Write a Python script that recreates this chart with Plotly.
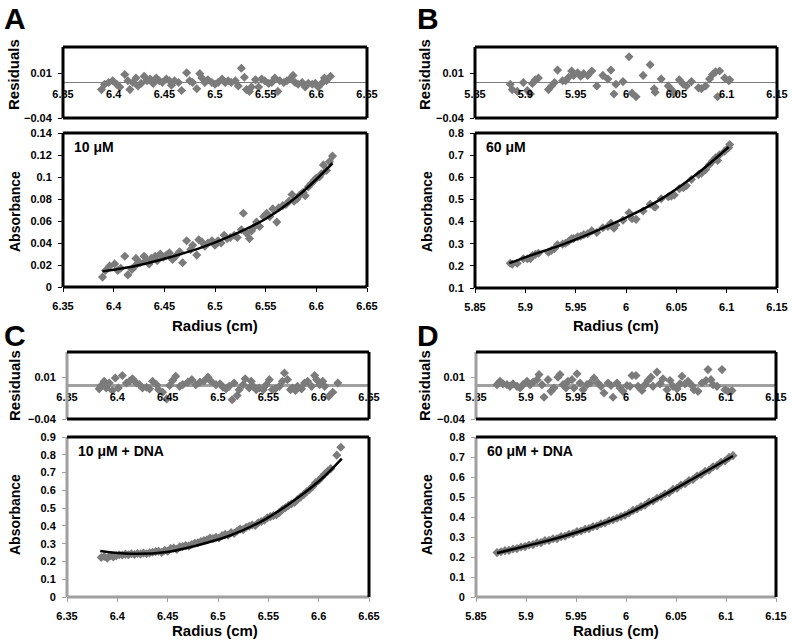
import plotly.graph_objects as go

# ---------------- data ----------------
# Panel A : 10 uM
a_x = [6.389, 6.392, 6.396, 6.401, 6.404, 6.407, 6.411, 6.414, 6.418, 6.421, 6.422, 6.426,
       6.430, 6.432, 6.435, 6.437, 6.441, 6.443, 6.446, 6.449, 6.452, 6.455, 6.458, 6.461,
       6.465, 6.468, 6.472, 6.476, 6.478, 6.482, 6.484, 6.487, 6.490, 6.493, 6.497, 6.500,
       6.503, 6.506, 6.509, 6.512, 6.515, 6.519, 6.522, 6.526, 6.528, 6.531, 6.534, 6.536,
       6.539, 6.541, 6.544, 6.548, 6.551, 6.554, 6.557, 6.561, 6.563, 6.567, 6.570, 6.573,
       6.576, 6.578, 6.581, 6.584, 6.587, 6.589, 6.592, 6.595, 6.598, 6.600, 6.603, 6.605,
       6.607, 6.610, 6.613, 6.616]
a_y = [0.009, 0.015, 0.019, 0.021, 0.015, 0.017, 0.028, 0.011, 0.016, 0.019, 0.026, 0.022,
       0.028, 0.024, 0.021, 0.026, 0.028, 0.024, 0.030, 0.027, 0.029, 0.031, 0.025, 0.028,
       0.032, 0.022, 0.042, 0.034, 0.038, 0.029, 0.043, 0.041, 0.037, 0.040, 0.042, 0.038,
       0.042, 0.040, 0.047, 0.044, 0.045, 0.047, 0.045, 0.052, 0.067, 0.049, 0.044, 0.051,
       0.055, 0.059, 0.055, 0.064, 0.067, 0.064, 0.071, 0.059, 0.072, 0.074, 0.075, 0.078,
       0.084, 0.078, 0.080, 0.084, 0.086, 0.083, 0.091, 0.094, 0.097, 0.099, 0.100, 0.103,
       0.111, 0.106, 0.114, 0.119]
a_fit_x = [6.389, 6.419, 6.452, 6.485, 6.518, 6.551, 6.584, 6.616]
a_fit_y = [0.0142, 0.0187, 0.0262, 0.0353, 0.0474, 0.0625, 0.0845, 0.1125]
a_res_x = [6.388, 6.391, 6.395, 6.399, 6.403, 6.406, 6.411, 6.414, 6.416, 6.419, 6.422, 6.424,
           6.427, 6.430, 6.433, 6.436, 6.439, 6.442, 6.445, 6.448, 6.452, 6.455, 6.457, 6.460,
           6.464, 6.467, 6.472, 6.475, 6.478, 6.482, 6.485, 6.487, 6.490, 6.493, 6.497, 6.500,
           6.503, 6.507, 6.510, 6.513, 6.516, 6.520, 6.523, 6.526, 6.529, 6.531, 6.534, 6.536,
           6.540, 6.543, 6.546, 6.549, 6.553, 6.556, 6.559, 6.562, 6.564, 6.568, 6.571, 6.574,
           6.577, 6.579, 6.582, 6.586, 6.589, 6.592, 6.596, 6.599, 6.602, 6.606, 6.608, 6.610,
           6.614]
a_res_y = [-0.008, -0.002, 0.000, 0.002, -0.002, -0.005, 0.009, 0.002, -0.008, 0.000, 0.005, -0.004,
           -0.001, 0.007, 0.002, 0.004, -0.001, 0.005, 0.002, 0.000, 0.004, 0.002, -0.003, 0.002,
           0.000, -0.009, 0.011, 0.002, 0.000, -0.007, 0.010, 0.005, 0.000, 0.003, 0.000, -0.002,
           0.000, 0.004, 0.000, 0.002, 0.000, 0.002, -0.004, 0.016, 0.006, -0.008, -0.010, -0.005,
           0.003, -0.005, 0.004, 0.002, -0.001, 0.000, 0.005, -0.010, 0.002, 0.000, 0.002, 0.004,
           0.008, 0.000, -0.002, 0.000, -0.005, -0.001, -0.002, -0.001, -0.005, 0.000, 0.005, 0.002,
           0.007]

# Panel B : 60 uM
b_x = [5.885, 5.887, 5.892, 5.898, 5.902, 5.905, 5.907, 5.910, 5.913, 5.923, 5.926, 5.929,
       5.932, 5.937, 5.940, 5.943, 5.946, 5.948, 5.952, 5.955, 5.958, 5.962, 5.966, 5.971,
       5.977, 5.982, 5.985, 5.988, 5.990, 5.997, 6.003, 6.006, 6.010, 6.017, 6.024, 6.028,
       6.029, 6.035, 6.042, 6.045, 6.048, 6.053, 6.057, 6.060, 6.065, 6.072, 6.075, 6.079,
       6.083, 6.086, 6.089, 6.091, 6.093, 6.098, 6.102, 6.103]
b_y = [0.212, 0.208, 0.212, 0.232, 0.232, 0.232, 0.246, 0.252, 0.257, 0.262, 0.270, 0.278,
       0.295, 0.298, 0.302, 0.311, 0.322, 0.323, 0.331, 0.334, 0.341, 0.345, 0.358, 0.351,
       0.372, 0.378, 0.392, 0.370, 0.385, 0.406, 0.440, 0.413, 0.410, 0.448, 0.478, 0.467,
       0.466, 0.503, 0.512, 0.515, 0.520, 0.548, 0.553, 0.562, 0.590, 0.612, 0.618, 0.634,
       0.658, 0.673, 0.688, 0.676, 0.702, 0.718, 0.734, 0.748]
b_fit_x = [5.884, 5.902, 5.936, 5.969, 6.002, 6.036, 6.069, 6.102]
b_fit_y = [0.212, 0.242, 0.295, 0.355, 0.422, 0.505, 0.610, 0.737]
b_res_x = b_x
b_res_y = [-0.002, -0.008, -0.010, 0.000, -0.009, -0.013, -0.001, 0.003, 0.005, -0.008, -0.004, 0.000,
           0.014, 0.002, 0.002, 0.006, 0.013, 0.008, 0.011, 0.007, 0.010, 0.008, 0.013, -0.004,
           0.008, 0.004, 0.014, -0.013, -0.002, 0.001, 0.029, -0.012, -0.016, 0.008, 0.020, -0.007,
           -0.011, 0.004, -0.004, -0.008, -0.012, 0.003, -0.002, -0.004, 0.001, -0.006, -0.007, -0.004,
           0.004, 0.009, 0.012, -0.016, 0.013, 0.005, 0.002, 0.003]

# Panel C : 10 uM + DNA
c_x = [6.384, 6.387, 6.390, 6.393, 6.396, 6.399, 6.402, 6.405, 6.408, 6.411, 6.414, 6.417,
       6.420, 6.423, 6.426, 6.429, 6.432, 6.435, 6.438, 6.441, 6.444, 6.447, 6.450, 6.453,
       6.456, 6.459, 6.462, 6.465, 6.468, 6.471, 6.474, 6.477, 6.480, 6.483, 6.486, 6.489,
       6.492, 6.495, 6.498, 6.501, 6.504, 6.507, 6.510, 6.513, 6.516, 6.519, 6.522, 6.525,
       6.528, 6.531, 6.534, 6.537, 6.540, 6.543, 6.546, 6.549, 6.552, 6.555, 6.558, 6.561,
       6.564, 6.567, 6.570, 6.573, 6.576, 6.579, 6.582, 6.585, 6.588, 6.591, 6.594, 6.597,
       6.600, 6.603, 6.606, 6.609, 6.612, 6.618, 6.622]
c_y = [0.222, 0.228, 0.218, 0.232, 0.225, 0.232, 0.238, 0.236, 0.241, 0.238, 0.243, 0.239,
       0.245, 0.242, 0.247, 0.243, 0.248, 0.252, 0.255, 0.257, 0.251, 0.262, 0.258, 0.272,
       0.276, 0.268, 0.282, 0.284, 0.289, 0.286, 0.295, 0.302, 0.305, 0.312, 0.318, 0.322,
       0.331, 0.329, 0.336, 0.332, 0.345, 0.352, 0.348, 0.362, 0.358, 0.371, 0.382, 0.379,
       0.392, 0.398, 0.405, 0.402, 0.418, 0.425, 0.432, 0.445, 0.452, 0.458, 0.462, 0.476,
       0.492, 0.502, 0.515, 0.524, 0.532, 0.548, 0.562, 0.575, 0.592, 0.605, 0.622, 0.642,
       0.655, 0.674, 0.692, 0.708, 0.722, 0.798, 0.842]
c_fit_x = [6.383, 6.413, 6.449, 6.479, 6.512, 6.545, 6.578, 6.605, 6.623]
c_fit_y = [0.259, 0.243, 0.253, 0.290, 0.346, 0.431, 0.553, 0.675, 0.778]
c_res_x = [6.382, 6.384, 6.387, 6.389, 6.392, 6.395, 6.398, 6.401, 6.405, 6.409, 6.412, 6.415,
           6.419, 6.422, 6.425, 6.429, 6.432, 6.435, 6.439, 6.441, 6.445, 6.449, 6.452, 6.455,
           6.458, 6.462, 6.465, 6.470, 6.474, 6.478, 6.482, 6.486, 6.490, 6.493, 6.498, 6.502,
           6.505, 6.508, 6.511, 6.514, 6.516, 6.519, 6.521, 6.525, 6.527, 6.531, 6.533, 6.535,
           6.538, 6.541, 6.545, 6.548, 6.551, 6.554, 6.557, 6.561, 6.564, 6.566, 6.569, 6.572,
           6.574, 6.577, 6.579, 6.583, 6.586, 6.589, 6.593, 6.596, 6.598, 6.601, 6.604, 6.606,
           6.610, 6.614, 6.619]
c_res_y = [-0.004, 0.000, 0.005, -0.003, 0.003, -0.006, 0.009, -0.003, 0.012, 0.003, 0.005, 0.008,
           0.003, 0.001, -0.003, -0.002, -0.004, 0.005, 0.001, -0.005, -0.008, -0.016, 0.000, 0.006,
           0.011, -0.001, 0.001, 0.004, 0.007, 0.001, 0.004, 0.005, 0.010, 0.005, 0.001, 0.002,
           -0.002, -0.004, -0.001, -0.017, 0.003, -0.012, -0.005, 0.001, 0.008, -0.003, 0.005, -0.001,
           -0.005, -0.003, -0.005, 0.001, 0.007, -0.005, -0.004, -0.001, 0.005, 0.015, 0.007, -0.005,
           -0.003, -0.006, -0.001, -0.004, 0.003, 0.005, -0.001, 0.012, 0.007, 0.001, 0.005, -0.001,
           -0.013, -0.008, 0.003]

# Panel D : 60 uM + DNA
d_x = [5.871, 5.875, 5.879, 5.883, 5.887, 5.891, 5.895, 5.899, 5.903, 5.907, 5.911, 5.915,
       5.919, 5.923, 5.927, 5.931, 5.935, 5.939, 5.943, 5.947, 5.951, 5.955, 5.959, 5.963,
       5.967, 5.971, 5.975, 5.979, 5.983, 5.987, 5.991, 5.995, 5.999, 6.003, 6.007, 6.011,
       6.015, 6.019, 6.023, 6.027, 6.031, 6.035, 6.039, 6.043, 6.047, 6.051, 6.055, 6.059,
       6.063, 6.067, 6.071, 6.075, 6.079, 6.083, 6.087, 6.091, 6.095, 6.099, 6.103, 6.107]
d_y = [0.222, 0.226, 0.232, 0.233, 0.240, 0.242, 0.250, 0.252, 0.260, 0.262, 0.271, 0.272,
       0.282, 0.283, 0.291, 0.292, 0.302, 0.304, 0.314, 0.317, 0.327, 0.330, 0.339, 0.342,
       0.352, 0.355, 0.366, 0.370, 0.381, 0.386, 0.394, 0.402, 0.409, 0.420, 0.433, 0.440,
       0.452, 0.459, 0.475, 0.480, 0.494, 0.501, 0.515, 0.521, 0.538, 0.544, 0.560, 0.566,
       0.582, 0.588, 0.605, 0.612, 0.628, 0.634, 0.651, 0.657, 0.674, 0.680, 0.698, 0.707]
d_fit_x = [5.871, 5.900, 5.935, 5.970, 6.000, 6.036, 6.070, 6.107]
d_fit_y = [0.220, 0.255, 0.300, 0.355, 0.413, 0.505, 0.600, 0.705]
d_res_x = [5.871, 5.874, 5.877, 5.881, 5.884, 5.887, 5.891, 5.894, 5.897, 5.901, 5.904, 5.907,
           5.911, 5.913, 5.916, 5.918, 5.922, 5.925, 5.928, 5.932, 5.934, 5.937, 5.940, 5.942,
           5.946, 5.948, 5.951, 5.954, 5.957, 5.961, 5.964, 5.968, 5.972, 5.975, 5.978, 5.982,
           5.985, 5.987, 5.991, 5.994, 5.997, 6.001, 6.004, 6.006, 6.010, 6.012, 6.016, 6.019,
           6.022, 6.025, 6.027, 6.031, 6.034, 6.037, 6.041, 6.044, 6.047, 6.051, 6.054, 6.056,
           6.059, 6.062, 6.066, 6.068, 6.072, 6.076, 6.080, 6.082, 6.085, 6.087, 6.091, 6.096,
           6.099, 6.102, 6.106]
d_res_y = [0.001, 0.005, 0.002, 0.001, -0.001, 0.002, -0.001, -0.003, 0.001, 0.005, 0.001, 0.004,
           0.007, 0.013, 0.001, -0.014, 0.007, -0.007, -0.003, 0.010, 0.013, 0.001, -0.003, 0.005,
           0.007, -0.003, 0.014, 0.003, -0.005, 0.001, 0.003, 0.009, 0.003, -0.001, -0.009, 0.003,
           0.000, -0.014, 0.003, -0.003, -0.007, 0.000, -0.001, 0.012, 0.012, -0.001, -0.006, 0.001,
           0.006, 0.010, -0.001, 0.016, 0.002, 0.008, -0.005, 0.006, -0.001, -0.004, 0.002, 0.011,
           0.002, 0.005, 0.000, -0.005, -0.007, 0.003, 0.006, 0.019, 0.007, 0.001, -0.001, 0.019,
           -0.005, -0.007, -0.006]

panel_letters = ["A", "B", "C", "D"]
panel_labels = ["10 \u03bcM", "60 \u03bcM", "10 \u03bcM + DNA", "60 \u03bcM + DNA"]
x_ranges = [[6.35, 6.65], [5.85, 6.15], [6.35, 6.65], [5.85, 6.15]]
y_ranges = [[0, 0.14], [0.1, 0.8], [0, 0.9], [0, 0.8]]
y_dticks = [0.02, 0.1, 0.1, 0.1]
res_range = [-0.04, 0.04]
res_ticks = [-0.04, 0.01]

data = [(a_x, a_y, a_fit_x, a_fit_y, a_res_x, a_res_y),
        (b_x, b_y, b_fit_x, b_fit_y, b_res_x, b_res_y),
        (c_x, c_y, c_fit_x, c_fit_y, c_res_x, c_res_y),
        (d_x, d_y, d_fit_x, d_fit_y, d_res_x, d_res_y)]

# ---------------- layout in pixels ----------------
W, H = 792, 642
# left, right, residual top/bottom, main top/bottom (pixels)
boxes = [(63, 367, 47, 118, 133, 287),
         (475, 777, 47, 118, 133, 288),
         (67, 369, 352, 419, 437, 597),
         (476, 776, 352, 419, 437, 597)]
letter_pos = [(15, 18), (428, 18), (15, 335), (428, 335)]
res_title_pos = [(14, 75), (425, 75), (14, 386), (424, 386)]
abs_title_pos = [(15, 212), (427, 212), (15, 515), (427, 515)]
rad_title_pos = [(215, 326), (616, 326), (215, 630), (616, 630)]
gray_axes = [False, False, True, True]

FONT = "Arial, Liberation Sans, sans-serif"
MARKER = "#7b7b7b"


def fx(p):
    return p / W


def fy(p):
    return 1 - p / H


fig = go.Figure()
layout = dict(width=W, height=H, margin=dict(l=0, r=0, t=0, b=0, autoexpand=False),
              paper_bgcolor="white", plot_bgcolor="white", showlegend=False,
              font=dict(family=FONT, color="black"))
shapes = []
annotations = []

tickfont = dict(family=FONT, size=11, color="black", weight="bold")


def label(text, x, y, size, angle=0):
    return dict(text=text, x=fx(x), y=fy(y), xref="paper", yref="paper",
                xanchor="center", yanchor="middle", showarrow=False, textangle=angle,
                font=dict(family=FONT, size=size, weight="bold"))


for i in range(4):
    xs, ys, fxs, fys, rxs, rys = data[i]
    l, r, rt, rb, mt, mb = boxes[i]
    nr, nm = 2 * i + 1, 2 * i + 2
    xr_name = "x" if nr == 1 else f"x{nr}"
    yr_name = "y" if nr == 1 else f"y{nr}"
    xm_name, ym_name = f"x{nm}", f"y{nm}"
    gray = gray_axes[i]
    edge = "#a0a0a0" if gray else "black"

    # residual subplot
    res_dom = [fy(rb), fy(rt)]
    layout["xaxis" if nr == 1 else f"xaxis{nr}"] = dict(
        domain=[fx(l), fx(r)], range=x_ranges[i], tick0=x_ranges[i][0], dtick=0.05,
        anchor="free", position=(res_dom[0] + res_dom[1]) / 2, automargin=False,
        showgrid=False, zeroline=False, showline=False, ticks="",
        ticklabelstandoff=3, tickfont=tickfont)
    layout["yaxis" if nr == 1 else f"yaxis{nr}"] = dict(
        domain=res_dom, range=res_range, tickvals=res_ticks, anchor=xr_name,
        automargin=False, showgrid=False, zeroline=True,
        zerolinecolor="#a0a0a0" if gray else "#7a7a7a",
        zerolinewidth=3 if gray else 1,
        showline=False, ticks="outside", ticklen=4, tickcolor=edge,
        ticklabelstandoff=4, tickfont=tickfont)

    # main subplot
    layout[f"xaxis{nm}"] = dict(
        domain=[fx(l), fx(r)], range=x_ranges[i], tick0=x_ranges[i][0], dtick=0.05,
        anchor=ym_name, automargin=False, showgrid=False, zeroline=False, showline=False,
        ticks="outside", ticklen=4, tickcolor=edge, ticklabelstandoff=5,
        tickfont=tickfont)
    layout[f"yaxis{nm}"] = dict(
        domain=[fy(mb), fy(mt)], range=y_ranges[i], tick0=y_ranges[i][0],
        dtick=y_dticks[i], anchor=xm_name, automargin=False, showgrid=False,
        zeroline=False, showline=False, ticks="outside", ticklen=4, tickcolor=edge,
        ticklabelstandoff=4, tickfont=tickfont)

    fig.add_trace(go.Scatter(x=rxs, y=rys, xaxis=xr_name, yaxis=yr_name, mode="markers",
                             marker=dict(symbol="diamond", size=7, color=MARKER)))
    fig.add_trace(go.Scatter(x=xs, y=ys, xaxis=xm_name, yaxis=ym_name, mode="markers",
                             marker=dict(symbol="diamond", size=7, color=MARKER)))
    fig.add_trace(go.Scatter(x=fxs, y=fys, xaxis=xm_name, yaxis=ym_name, mode="lines",
                             line=dict(color="black", width=2.5, shape="spline")))

    # box borders
    for xa, ya, left_c, bottom_c in [(xr_name, yr_name, edge, "black"),
                                     (xm_name, ym_name, edge, edge)]:
        xd, yd = f"{xa} domain", f"{ya} domain"
        sides = [((0, 0), (0, 1), left_c), ((0, 1), (0, 0), bottom_c),
                 ((0, 1), (1, 1), "black"), ((1, 1), (0, 1), "black")]
        for (x0, x1), (y0, y1), col in sides:
            shapes.append(dict(type="line", xref=xd, yref=yd, x0=x0, x1=x1, y0=y0, y1=y1,
                               line=dict(color=col, width=3), layer="above"))

    # texts
    annotations.append(label(panel_letters[i], *letter_pos[i], 30))
    annotations.append(label("Residuals", *res_title_pos[i], 15, -90))
    annotations.append(label("Absorbance", *abs_title_pos[i], 14, -90))
    annotations.append(label("Radius (cm)", *rad_title_pos[i], 15))
    annotations.append(dict(text=panel_labels[i], x=0.03, y=0.91,
                            xref=f"{xm_name} domain", yref=f"{ym_name} domain",
                            xanchor="left", yanchor="middle", showarrow=False,
                            font=dict(family=FONT, size=14, weight="bold")))

layout["shapes"] = shapes
layout["annotations"] = annotations
fig.update_layout(**layout)

# the page's default body margin would shift the figure; drop it
fig.write_html("out.html", config={"displayModeBar": False},
               post_script="document.body.style.margin = '0px';")
